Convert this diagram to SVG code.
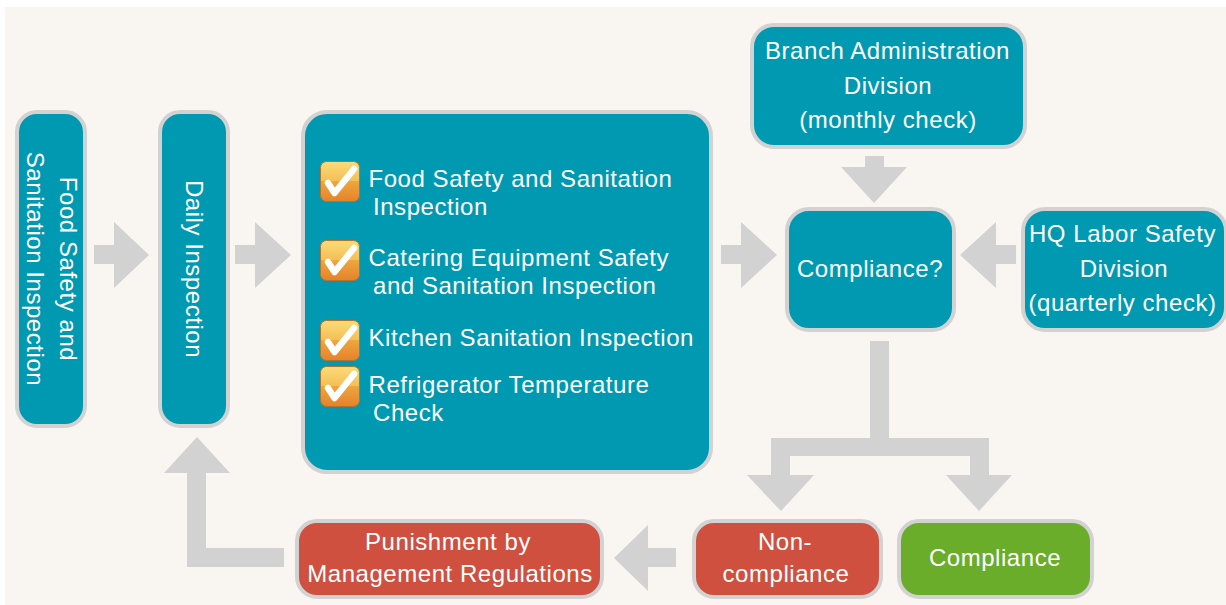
<svg xmlns="http://www.w3.org/2000/svg" width="1226" height="605" viewBox="0 0 1226 605">
<style>
.n{stroke:#d2d2d2;stroke-width:4}
.b{fill:#0099b2}.r{fill:#cf503e}.g{fill:#69ad2a}
text{font-family:"Liberation Sans",Arial,sans-serif;font-size:24px;fill:#fff;letter-spacing:.55px}
.m{text-anchor:middle}
.a{fill:#d2d2d2}
</style>
<defs>
<linearGradient id="cb" x1="0" y1="0" x2="0" y2="1"><stop offset="0" stop-color="#fbdc7a"/><stop offset=".48" stop-color="#f4bf55"/><stop offset=".5" stop-color="#eea63f"/><stop offset="1" stop-color="#e5822a"/></linearGradient>
<g id="check"><rect x=".5" y=".5" width="39" height="40" rx="6" fill="url(#cb)" stroke="#b5722f"/><path d="M8 22 L14.5 32 L34 8" fill="none" stroke="#fff" stroke-width="6.5" stroke-linecap="round" stroke-linejoin="round"/></g>
</defs>
<rect width="1226" height="605" fill="#fff"/>
<rect x="5" y="7" width="1221" height="598" fill="#f9f6f1"/>
<g id="connectors" class="a">
<path d="M94 245H114V222L149 255L114 288V264H94Z"/>
<path d="M235 245H255V222L291 255L255 288V264H235Z"/>
<path d="M721 245H741V222L777 255L741 288V264H721Z"/>
<path d="M865 156H884V167H907L874 203L841 167H865Z"/>
<path d="M1016 245H996V222L960 255L996 288V264H1016Z"/>
<path d="M870 341H889V438H989V475H1012L979 511L946 475H970V456H790V475H814L781 511L747 475H771V438H870Z"/>
<path d="M676 548H648V525L614 558L648 591V567H676Z"/>
<path d="M284 548H206V473H230L197 437L164 473H187V567H284Z"/>
</g>
<g id="node-food-safety"><rect class="n b" x="17" y="112" width="68" height="314" rx="20"/>
<text class="m" transform="translate(59.5 269) rotate(90)"><tspan x="0" y="0">Food Safety and</tspan><tspan x="0" y="33">Sanitation Inspection</tspan></text></g>
<g id="node-daily"><rect class="n b" x="160" y="112" width="68" height="314" rx="20"/>
<text class="m" transform="translate(186 269) rotate(90)">Daily Inspection</text></g>
<g id="node-list"><rect class="n b" x="303" y="112" width="408" height="360" rx="24"/>
<use href="#check" x="320" y="161"/><use href="#check" x="320" y="240"/><use href="#check" x="320" y="320"/><use href="#check" x="320" y="366"/>
<text x="368.5" y="187">Food Safety and Sanitation</text><text x="373" y="215">Inspection</text>
<text x="368.5" y="266">Catering Equipment Safety</text><text x="373" y="294">and Sanitation Inspection</text>
<text x="368.5" y="346">Kitchen Sanitation Inspection</text>
<text x="368.5" y="393">Refrigerator Temperature</text><text x="373" y="421">Check</text></g>
<g id="node-branch"><rect class="n b" x="752" y="25" width="273" height="122" rx="22"/>
<text class="m" x="887.5" y="59">Branch Administration</text><text class="m" x="888" y="94">Division</text><text class="m" x="888" y="128">(monthly check)</text></g>
<g id="node-compliance-q"><rect class="n b" x="787" y="209" width="167" height="121" rx="22"/>
<text class="m" x="870" y="277">Compliance?</text></g>
<g id="node-hq"><rect class="n b" x="1023" y="209" width="203" height="121" rx="22"/>
<text class="m" x="1122.5" y="242">HQ Labor Safety</text><text class="m" x="1124" y="277">Division</text><text class="m" x="1122.5" y="311">(quarterly check)</text></g>
<g id="node-punishment"><rect class="n r" x="297" y="521" width="305" height="76" rx="20"/>
<text class="m" x="448" y="550">Punishment by</text><text class="m" x="450" y="582">Management Regulations</text></g>
<g id="node-noncompliance"><rect class="n r" x="694" y="521" width="187" height="76" rx="20"/>
<text class="m" x="785" y="550">Non-</text><text class="m" x="786" y="582">compliance</text></g>
<g id="node-compliance"><rect class="n g" x="899" y="521" width="193" height="76" rx="20"/>
<text class="m" x="995" y="566">Compliance</text></g>
</svg>
